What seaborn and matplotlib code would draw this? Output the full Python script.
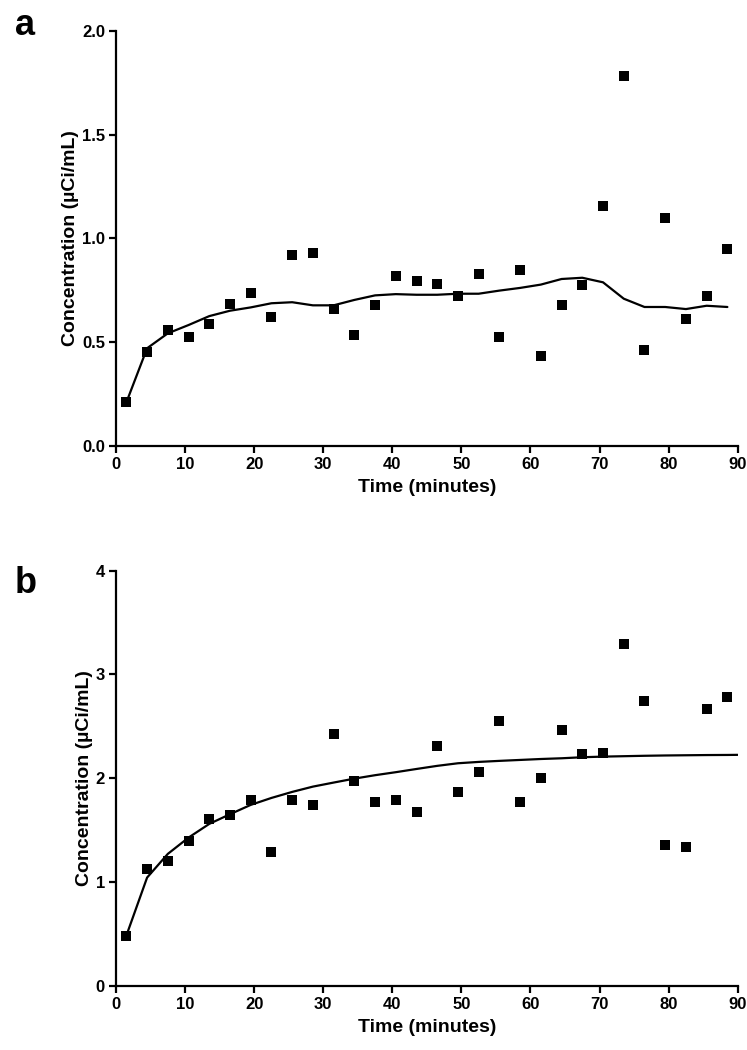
import numpy as np
import pandas as pd
import seaborn as sns
import matplotlib.pyplot as plt

# sampling times (minutes)
time = [1.5, 4.5, 7.5, 10.5, 13.5, 16.5, 19.5, 22.5, 25.5, 28.5,
        31.5, 34.5, 37.5, 40.5, 43.5, 46.5, 49.5, 52.5, 55.5, 58.5,
        61.5, 64.5, 67.5, 70.5, 73.5, 76.5, 79.5, 82.5, 85.5, 88.5]

# panel a: measured concentration and fitted line
conc_a = [0.209, 0.450, 0.560, 0.526, 0.588, 0.685, 0.736, 0.619, 0.918, 0.928,
          0.661, 0.535, 0.680, 0.817, 0.796, 0.780, 0.722, 0.828, 0.523, 0.847,
          0.433, 0.680, 0.775, 1.157, 1.785, 0.463, 1.100, 0.610, 0.722, 0.947]
fit_a = [0.209, 0.470, 0.542, 0.582, 0.625, 0.651, 0.667, 0.687, 0.692, 0.677,
         0.677, 0.703, 0.725, 0.731, 0.728, 0.728, 0.733, 0.733, 0.748, 0.761,
         0.777, 0.804, 0.810, 0.788, 0.709, 0.669, 0.669, 0.659, 0.675, 0.669]

# panel b: measured concentration and model curve
conc_b = [0.485, 1.130, 1.204, 1.394, 1.612, 1.644, 1.792, 1.291, 1.795, 1.747,
          2.431, 1.972, 1.770, 1.789, 1.676, 2.312, 1.869, 2.065, 2.553, 1.776,
          2.004, 2.470, 2.232, 2.242, 3.295, 2.749, 1.361, 1.339, 2.672, 2.781]
fit_time_b = time + [90.0]
fit_b = [0.485, 1.044, 1.272, 1.429, 1.561, 1.654, 1.744, 1.811, 1.869, 1.920,
         1.959, 1.997, 2.030, 2.059, 2.090, 2.120, 2.145, 2.158, 2.168, 2.177,
         2.186, 2.193, 2.203, 2.209, 2.213, 2.217, 2.220, 2.222, 2.224, 2.225, 2.226]

sns.set_style("ticks", {"axes.edgecolor": "black", "text.color": "black",
                        "axes.labelcolor": "black", "xtick.color": "black",
                        "ytick.color": "black"})
plt.rcParams['font.family'] = ['Liberation Sans', 'DejaVu Sans']

fig = plt.figure(figsize=(7.47, 10.5), dpi=100)
ax_a = fig.add_axes([0.1553, 0.5755, 0.8323, 0.395])
ax_b = fig.add_axes([0.1553, 0.061, 0.8323, 0.3955])

panels = [
    (ax_a, conc_a, time, fit_a, 2.0, [0.0, 0.5, 1.0, 1.5, 2.0], "{:.1f}", "a", 0.99),
    (ax_b, conc_b, fit_time_b, fit_b, 4.0, [0, 1, 2, 3, 4], "{:.0f}", "b", 0.947),
]

for ax, conc, ft, fit, ymax, yticks, fmt, tag, tag_y in panels:
    df = pd.DataFrame({"time": time, "conc": conc})
    df_fit = pd.DataFrame({"time": ft, "fit": fit})
    sns.lineplot(data=df_fit, x="time", y="fit", ax=ax, color="black",
                 linewidth=1.6, sort=True, estimator=None)
    sns.scatterplot(data=df, x="time", y="conc", ax=ax, marker="s", s=44,
                    color="black", edgecolor="black", linewidth=0, zorder=3)
    ax.set_xlim(0, 90)
    ax.set_ylim(0, ymax)
    ax.set_xticks(range(0, 91, 10))
    ax.set_yticks(yticks)
    ax.set_yticklabels([fmt.format(v) for v in yticks])
    sns.despine(ax=ax)
    for sp in ["left", "bottom"]:
        ax.spines[sp].set_linewidth(1.6)
        ax.spines[sp].set_color("black")
    ax.tick_params(width=1.6, length=5, labelsize=12, pad=3, colors="black")
    for lab in ax.get_xticklabels() + ax.get_yticklabels():
        lab.set_fontweight("bold")
    ax.set_xlabel("Time (minutes)", fontsize=14, fontweight="bold", labelpad=5, color="black")
    ax.set_ylabel("Concentration (\u00b5Ci/mL)", fontsize=14, fontweight="bold", labelpad=2, color="black")
    ax.text(-0.163, tag_y, tag, transform=ax.transAxes, fontsize=26,
            fontweight="bold", ha="left", va="baseline", color="black")

fig.savefig("out.png", dpi=100)
